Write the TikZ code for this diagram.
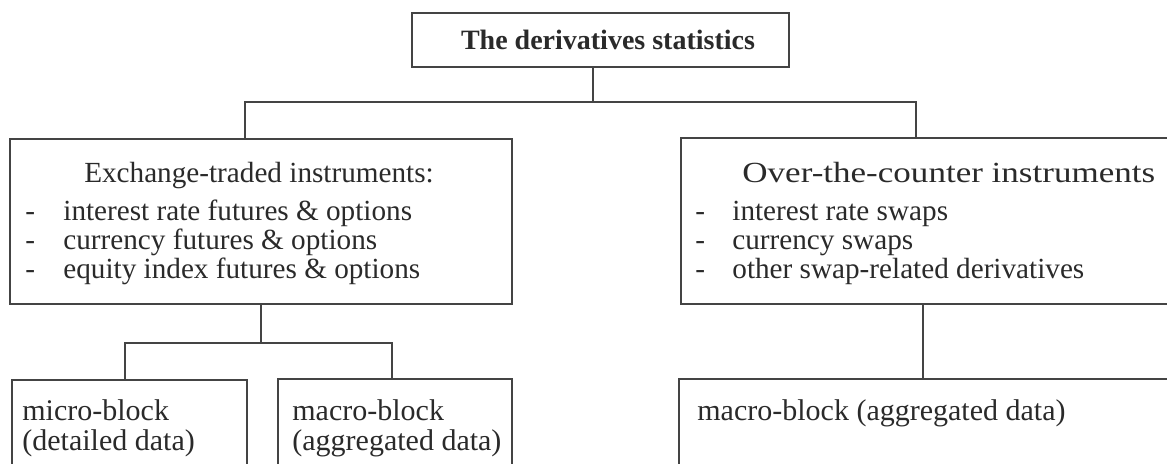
\documentclass[tikz,border=0pt]{standalone}
\usepackage{fontspec}
\usepackage{graphicx}
\setmainfont{Liberation Serif}
\definecolor{ink}{HTML}{2A2A2A}
\definecolor{rule}{HTML}{444444}
\begin{document}
\begin{tikzpicture}[x=0.5pt,y=-0.5pt,
  box/.style={draw=rule, line width=0.8pt, anchor=north west, inner sep=0pt, outer sep=0pt},
  txt/.style={text=ink, inner sep=0pt, font=\fontsize{14.6pt}{14pt}\selectfont},
  btxt/.style={text=ink, inner sep=0pt, font=\fontsize{15pt}{14pt}\selectfont},
  conn/.style={draw=rule, line width=0.8pt}]
\clip (0,0) rectangle (1167,463);
\fill[white] (0,0) rectangle (1167,463);
% boxes
\node[box, minimum width=188.5pt, minimum height=27pt] (title) at (412,13) {};
\node[box, minimum width=251pt, minimum height=82.5pt] (left) at (10,139) {};
\node[box, minimum width=254.5pt, minimum height=83pt] (right) at (681,138) {};
\node[box, minimum width=117.5pt, minimum height=50pt] (micro) at (12,380) {};
\node[box, minimum width=117pt, minimum height=50pt] (macroL) at (278,379) {};
\node[box, minimum width=255.5pt, minimum height=50pt] (macroR) at (679,379) {};
% texts
\node[txt, font=\fontsize{14pt}{14pt}\selectfont\bfseries, anchor=base] (ttext) at (608,49) {The derivatives statistics};
\node[txt, anchor=base] (lhead) at (259,182) {Exchange-traded instruments:};
\node[txt, anchor=base west] (ld1) at (25,220) {-};
\node[txt, anchor=base west] (ld2) at (25,249) {-};
\node[txt, anchor=base west] (ld3) at (25,278) {-};
\node[txt, anchor=base west] (li1) at (63,220) {interest rate futures \& options};
\node[txt, anchor=base west] (li2) at (63,249) {currency futures \& options};
\node[txt, anchor=base west] (li3) at (63,278) {equity index futures \& options};
\node[txt, anchor=base west] (rhead) at (742,182) {\scalebox{1.2}[1]{Over-the-counter instruments}};
\node[txt, anchor=base west] (rd1) at (695,220) {-};
\node[txt, anchor=base west] (rd2) at (695,249) {-};
\node[txt, anchor=base west] (rd3) at (695,278) {-};
\node[txt, anchor=base west] (ri1) at (732,220) {interest rate swaps};
\node[txt, anchor=base west] (ri2) at (732,249) {currency swaps};
\node[txt, anchor=base west] (ri3) at (732,278) {other swap-related derivatives};
\node[btxt, anchor=base west] (m1) at (22,420) {micro-block};
\node[btxt, anchor=base west] (m2) at (22,450) {(detailed data)};
\node[btxt, anchor=base west] (a1) at (292,420) {macro-block};
\node[btxt, anchor=base west] (a2) at (292,450) {(aggregated data)};
\node[btxt, anchor=base west] (r1) at (697,420) {macro-block (aggregated data)};
% connectors
\coordinate (j1) at (593,102);
\coordinate (hl) at (245,102);
\coordinate (hr) at (916,102);
\coordinate (j2) at (261,343);
\coordinate (b1) at (125,343);
\coordinate (b2) at (392,343);
\coordinate (j3) at (923,343);
\draw[conn] (j1 |- title.south) -- (j1);
\draw[conn] (hl |- left.north) -- (hl) -- (hr) -- (hr |- right.north);
\draw[conn] (j2 |- left.south) -- (j2);
\draw[conn] (b1 |- micro.north) -- (b1) -- (b2) -- (b2 |- macroL.north);
\draw[conn] (j3 |- right.south) -- (j3 |- macroR.north);
\end{tikzpicture}
\end{document}
